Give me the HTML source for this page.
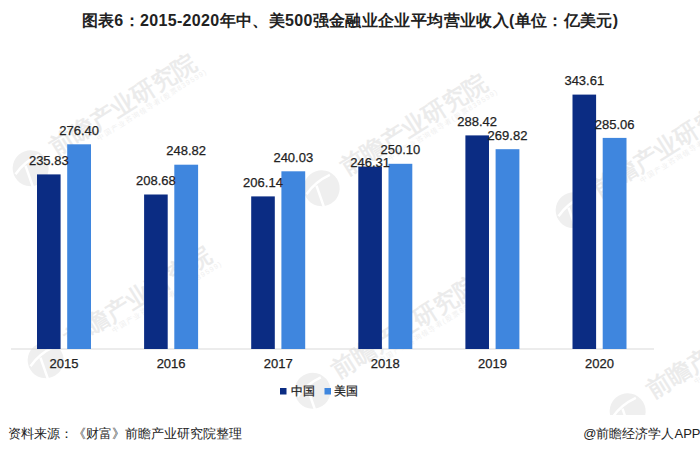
<!DOCTYPE html>
<html><head><meta charset="utf-8"><style>
html,body{margin:0;padding:0;background:#fff;}
body{width:700px;height:454px;position:relative;overflow:hidden;font-family:"Liberation Sans",sans-serif;}
.t{position:absolute;left:0;width:700px;top:11px;text-align:center;font-size:16px;font-weight:bold;color:#222;line-height:20px;white-space:nowrap;letter-spacing:0.35px;}
.t .c{font-weight:bold;}
.src{position:absolute;left:8px;top:425px;font-size:13px;color:#222;line-height:18px;white-space:nowrap;}
.app{position:absolute;right:-0.5px;top:425px;font-size:13px;color:#222;line-height:18px;white-space:nowrap;}
svg{position:absolute;left:0;top:0;}
svg text{font-family:"Liberation Sans",sans-serif;font-size:13px;fill:#222;stroke:#222;stroke-width:0.25px;text-anchor:middle;}
svg text.wm1{font-size:24px;font-weight:normal;fill:#ebebeb;stroke:#ebebeb;stroke-width:0.6px;text-anchor:start;}
svg text.wm2{font-size:7px;fill:#efefef;stroke:none;text-anchor:start;letter-spacing:1.2px;}
</style></head><body>
<svg width="700" height="454" viewBox="0 0 700 454">
<g transform="translate(56,156) rotate(-32)">
<circle cx="-28" cy="-3" r="18" fill="#efefef"/>
<path d="M-44,-6 Q-30,-12 -14,-10" stroke="#fff" stroke-width="2.5" fill="none"/>
<path d="M-31,-8 L-36,14" stroke="#fff" stroke-width="2.5" fill="none"/>
<text x="0" y="0" class="wm1">前瞻产业研究院</text>
<text x="45" y="10" class="wm2">中国产业咨询领导者(股票839599)</text>
</g><g transform="translate(71,348) rotate(-32)">
<circle cx="-28" cy="-3" r="18" fill="#efefef"/>
<path d="M-44,-6 Q-30,-12 -14,-10" stroke="#fff" stroke-width="2.5" fill="none"/>
<path d="M-31,-8 L-36,14" stroke="#fff" stroke-width="2.5" fill="none"/>
<text x="0" y="0" class="wm1">前瞻产业研究院</text>
<text x="45" y="10" class="wm2">中国产业咨询领导者(股票839599)</text>
</g><g transform="translate(347,176) rotate(-32)">
<circle cx="-28" cy="-3" r="18" fill="#efefef"/>
<path d="M-44,-6 Q-30,-12 -14,-10" stroke="#fff" stroke-width="2.5" fill="none"/>
<path d="M-31,-8 L-36,14" stroke="#fff" stroke-width="2.5" fill="none"/>
<text x="0" y="0" class="wm1">前瞻产业研究院</text>
<text x="45" y="10" class="wm2">中国产业咨询领导者(股票839599)</text>
</g><g transform="translate(338,378.5) rotate(-32)">
<circle cx="-28" cy="-3" r="18" fill="#efefef"/>
<path d="M-44,-6 Q-30,-12 -14,-10" stroke="#fff" stroke-width="2.5" fill="none"/>
<path d="M-31,-8 L-36,14" stroke="#fff" stroke-width="2.5" fill="none"/>
<text x="0" y="0" class="wm1">前瞻产业研究院</text>
<text x="45" y="10" class="wm2">中国产业咨询领导者(股票839599)</text>
</g><g transform="translate(599,198) rotate(-32)">
<circle cx="-28" cy="-3" r="18" fill="#efefef"/>
<path d="M-44,-6 Q-30,-12 -14,-10" stroke="#fff" stroke-width="2.5" fill="none"/>
<path d="M-31,-8 L-36,14" stroke="#fff" stroke-width="2.5" fill="none"/>
<text x="0" y="0" class="wm1">前瞻产业研究院</text>
<text x="45" y="10" class="wm2">中国产业咨询领导者(股票839599)</text>
</g><g transform="translate(653,399) rotate(-32)">
<circle cx="-28" cy="-3" r="18" fill="#efefef"/>
<path d="M-44,-6 Q-30,-12 -14,-10" stroke="#fff" stroke-width="2.5" fill="none"/>
<path d="M-31,-8 L-36,14" stroke="#fff" stroke-width="2.5" fill="none"/>
<text x="0" y="0" class="wm1">前瞻产业研究院</text>
<text x="45" y="10" class="wm2">中国产业咨询领导者(股票839599)</text>
</g>
<rect x="0" y="415" width="700" height="39" fill="#fff"/>
<rect x="11" y="348.5" width="643" height="1" fill="#d9d9d9"/>
<rect x="37.0" y="174.4" width="23.6" height="174.6" fill="#0b2c83"/><rect x="67.2" y="144.3" width="23.8" height="204.7" fill="#3f86de"/><rect x="144.1" y="194.5" width="23.6" height="154.5" fill="#0b2c83"/><rect x="174.3" y="164.7" width="23.8" height="184.3" fill="#3f86de"/><rect x="251.2" y="196.4" width="23.6" height="152.6" fill="#0b2c83"/><rect x="281.4" y="171.3" width="23.8" height="177.7" fill="#3f86de"/><rect x="358.3" y="166.6" width="23.6" height="182.4" fill="#0b2c83"/><rect x="388.5" y="163.8" width="23.8" height="185.2" fill="#3f86de"/><rect x="465.4" y="135.4" width="23.6" height="213.6" fill="#0b2c83"/><rect x="495.6" y="149.2" width="23.8" height="199.8" fill="#3f86de"/><rect x="572.5" y="94.6" width="23.6" height="254.4" fill="#0b2c83"/><rect x="602.7" y="137.9" width="23.8" height="211.1" fill="#3f86de"/>
<text x="48.8" y="165.0">235.83</text><text x="79.1" y="134.9">276.40</text><text x="155.9" y="185.1">208.68</text><text x="186.2" y="155.3">248.82</text><text x="263.0" y="187.0">206.14</text><text x="293.3" y="161.9">240.03</text><text x="370.1" y="166.8">246.31</text><text x="400.4" y="154.4">250.10</text><text x="477.2" y="126.0">288.42</text><text x="507.5" y="139.8">269.82</text><text x="584.3" y="85.2">343.61</text><text x="614.6" y="128.5">285.06</text>
<text x="64.0" y="368">2015</text><text x="171.1" y="368">2016</text><text x="278.2" y="368">2017</text><text x="385.3" y="368">2018</text><text x="492.4" y="368">2019</text><text x="599.5" y="368">2020</text>
<rect x="280" y="388" width="6.5" height="6.5" fill="#0b2c83"/>
<rect x="324.5" y="388" width="6.5" height="6.5" fill="#3f86de"/>
<text x="290.7" y="394.5" style="text-anchor:start;font-size:12px">中国</text>
<text x="333.7" y="394.5" style="text-anchor:start;font-size:12px">美国</text>
</svg>
<div class="t"><span class="c">图表</span>6<span class="c">：</span>2015-2020<span class="c">年中、美</span>500<span class="c">强金融业企业平均营业收入</span>(<span class="c">单位：亿美元</span>)</div>
<div class="src">资料来源：《财富》前瞻产业研究院整理</div>
<div class="app">@前瞻经济学人APP</div>
</body></html>
